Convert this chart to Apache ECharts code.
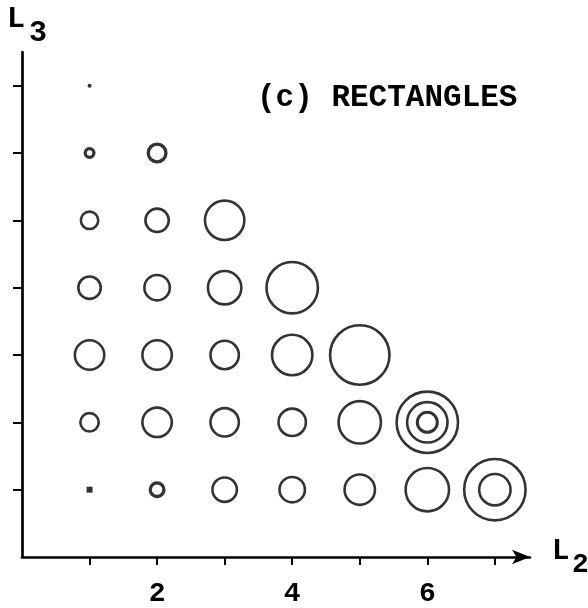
<!DOCTYPE html>
<html>
<head>
<meta charset="utf-8">
<script src="https://cdn.jsdelivr.net/npm/echarts@6/dist/echarts.min.js"></script>
<style>html,body{margin:0;padding:0;background:#fff;}#c{width:588px;height:608px;}</style>
</head>
<body>
<div id="c"></div>
<script>
// Outer ring diameters (px) for each L3 row, L2 = 1, 2, 3, ...
const L3_1 = [6, 17, 27, 28, 33, 46, 64];
const L3_2 = [21, 32, 31, 30, 45, 64];
const L3_3 = [32, 32, 31, 43, 62];
const L3_4 = [25, 28, 36, 54];
const L3_5 = [20, 26, 42];
const L3_6 = [12, 21];
const L3_7 = [4];
// Extra inner rings: [L2, L3, diameter]
const INNER_RINGS = [[6, 2, 43], [6, 2, 23], [7, 1, 34]];
// Filled marks: [L2, L3, symbol]
const FILLED_MARKS = [[1, 1, 'rect'], [1, 7, 'circle']];
const X_TICKS = [1, 2, 3, 4, 5, 6, 7];
const X_LABELS = [2, 4, 6];
const Y_TICKS = [1, 2, 3, 4, 5, 6, 7];
const TITLE = '(c) RECTANGLES';

const ROWS = [L3_1, L3_2, L3_3, L3_4, L3_5, L3_6, L3_7];
const filledKey = new Set(FILLED_MARKS.map(m => m[0] + ',' + m[1]));
const ringData = [];
ROWS.forEach((row, r) => {
  row.forEach((d, i) => {
    const l2 = i + 1, l3 = r + 1;
    if (filledKey.has(l2 + ',' + l3)) return;
    const bw = (d < 19 || l3 === 6) ? 3.3 : 2.6;
    ringData.push({value: [l2, l3], symbolSize: d - bw, itemStyle: {borderWidth: bw}});
  });
});
INNER_RINGS.forEach(([l2, l3, d]) => {
  const bw = d < 25 ? 3 : 2.6;
  ringData.push({value: [l2, l3], symbolSize: d - bw, itemStyle: {borderWidth: bw}});
});
const filledData = FILLED_MARKS.map(([l2, l3, sym]) => {
  const d = ROWS[l3 - 1][l2 - 1];
  return {value: [l2, l3], symbol: sym, symbolSize: d};
});

const FONT = '"Liberation Mono", "DejaVu Sans Mono", monospace';
const chart = echarts.init(document.getElementById('c'), null, {renderer: 'canvas'});
chart.setOption({
  animation: false,
  backgroundColor: '#fff',
  grid: {left: 22, right: 58, top: 52, bottom: 50},
  xAxis: {
    type: 'value', min: 0, max: 7.52, interval: 1,
    axisLine: {show: true, onZero: false, symbol: ['none', 'arrow'], symbolSize: [11, 18],
      lineStyle: {color: '#000', width: 2.7}},
    axisTick: {show: true, customValues: X_TICKS, length: 8, lineStyle: {color: '#000', width: 2}},
    axisLabel: {customValues: X_LABELS, fontFamily: FONT, fontWeight: 'bold', fontSize: 28, color: '#000', margin: 23},
    splitLine: {show: false}
  },
  yAxis: {
    type: 'value', min: 0, max: 7.5, interval: 1,
    axisLine: {show: true, onZero: false, lineStyle: {color: '#000', width: 2.7}},
    axisTick: {show: true, customValues: Y_TICKS, length: 9, lineStyle: {color: '#000', width: 2}},
    axisLabel: {show: false},
    splitLine: {show: false}
  },
  series: [
    {
      type: 'scatter', symbol: 'circle', silent: true,
      itemStyle: {color: 'rgba(0,0,0,0)', borderColor: '#000'},
      data: ringData, z: 3
    },
    {
      type: 'scatter', silent: true,
      itemStyle: {color: '#000'},
      data: filledData, z: 4
    }
  ],
  graphic: [
    {type: 'text', style: {x: 257, y: 98, text: TITLE, font: 'bold 31px ' + FONT, fill: '#000', verticalAlign: 'middle'}},
    {type: 'text', style: {x: 7, y: 19, text: 'L', font: 'bold 30px ' + FONT, fill: '#000', verticalAlign: 'middle'}},
    {type: 'text', style: {x: 29, y: 33, text: '3', font: 'bold 30px ' + FONT, fill: '#000', verticalAlign: 'middle'}},
    {type: 'text', style: {x: 552, y: 552, text: 'L', font: 'bold 29px ' + FONT, fill: '#000', verticalAlign: 'middle'}},
    {type: 'text', style: {x: 572, y: 565, text: '2', font: 'bold 28px ' + FONT, fill: '#000', verticalAlign: 'middle'}}
  ]
});
</script>
</body>
</html>
